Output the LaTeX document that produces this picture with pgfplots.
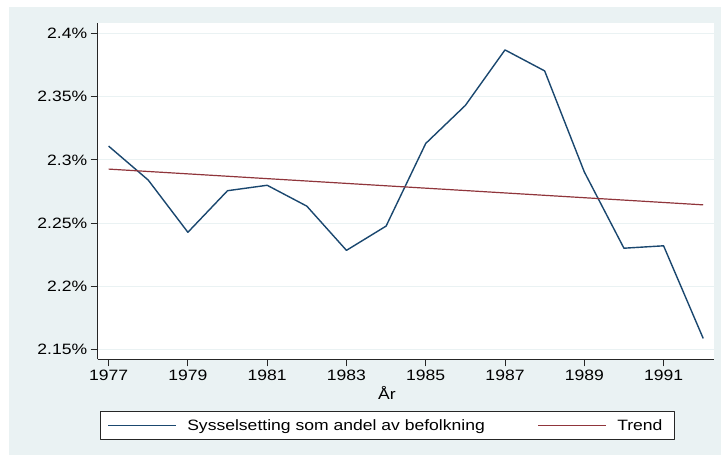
\documentclass[border=0pt]{standalone}
\usepackage{fontspec}
\setmainfont{Liberation Sans}[FakeStretch=1.17]
\usepackage{pgfplots}
\pgfplotsset{compat=1.18}

\definecolor{stbg}{RGB}{234,242,243}
\definecolor{stgrid}{RGB}{234,242,243}
\definecolor{stnavy}{RGB}{26,71,111}
\definecolor{stmaroon}{RGB}{144,53,59}
\newcommand\tfont{\fontsize{15}{18}\selectfont}

\pgfplotsset{
    legline/.style={legend image code/.code={
        \path[draw=none] (0pt,-13.8pt) rectangle (86.6pt,13.8pt);
        \draw[draw=#1, line width=1pt] (7.6pt,0pt) -- (75.3pt,0pt);
    }},
    % first entry also draws the legend frame (overlay, so the cell keeps its size)
    leglinebox/.style={legend image code/.code={
        \draw[overlay, draw=black!85, fill=none, line width=0.8pt]
            (0pt,-13.8pt) rectangle (573.6pt,13.8pt);
        \path[draw=none] (0pt,-13.8pt) rectangle (86.6pt,13.8pt);
        \draw[draw=#1, line width=1pt] (7.6pt,0pt) -- (75.3pt,0pt);
    }},
}

\begin{document}
\begin{tikzpicture}[x=1pt,y=1pt]
\useasboundingbox (0,0) rectangle (721,455);
\fill[stbg] (9,0) rectangle (721,448);
\begin{axis}[
    at={(97.7pt,95.7pt)}, anchor=south west,
    scale only axis,
    width=616.3pt, height=336.3pt,
    xmin=1976.725, xmax=1992.272,
    ymin=2.1422, ymax=2.4083,
    axis background/.style={fill=white},
    axis x line*=bottom, axis y line*=left,
    axis line style={black!85, line width=0.9pt, -},
    tick align=outside,
    major tick length=7pt,
    tick style={black!85, line width=0.9pt},
    xtick={1977,1979,...,1991},
    xticklabels={1977,1979,1981,1983,1985,1987,1989,1991},
    ytick={2.15,2.2,2.25,2.3,2.35,2.4},
    yticklabels={2.15\%,2.2\%,2.25\%,2.3\%,2.35\%,2.4\%},
    ymajorgrids,
    grid style={stgrid, line width=1pt},
    tick label style={font=\tfont, black},
    /pgf/number format/assume math mode=true,
    xlabel={År},
    xlabel style={font=\tfont, at={(axis description cs:0.4694,-0.1189)}, anchor=base},
    legend columns=2,
    legend cell align=left,
    legend style={at={(0.4702,-0.1968)}, anchor=center,
        draw=none, fill=white,
        inner xsep=0pt, inner ysep=0pt,
        nodes={inner sep=0pt, text depth=0pt, draw=none, fill=none},
        font=\tfont,
        /tikz/every even column/.style={column sep=0pt}},
]
\addplot[stnavy, line width=1.4pt, line join=round, leglinebox=stnavy] coordinates {
    (1977,2.3109) (1978,2.2840) (1979,2.2427) (1980,2.2756)
    (1981,2.2799) (1982,2.2634) (1983,2.2284) (1984,2.2476)
    (1985,2.3130) (1986,2.3431) (1987,2.3870) (1988,2.3704)
    (1989,2.2905) (1990,2.2301) (1991,2.2320) (1992,2.1587)
};
\addlegendentry{\makebox[343.4pt][l]{Sysselsetting som andel av befolkning}}
\addplot[stmaroon, line width=1.2pt, legline=stmaroon] coordinates {
    (1977,2.2927) (1992,2.2644)
};
\addlegendentry{\makebox[57pt][l]{Trend}}
\end{axis}
\end{tikzpicture}
\end{document}
